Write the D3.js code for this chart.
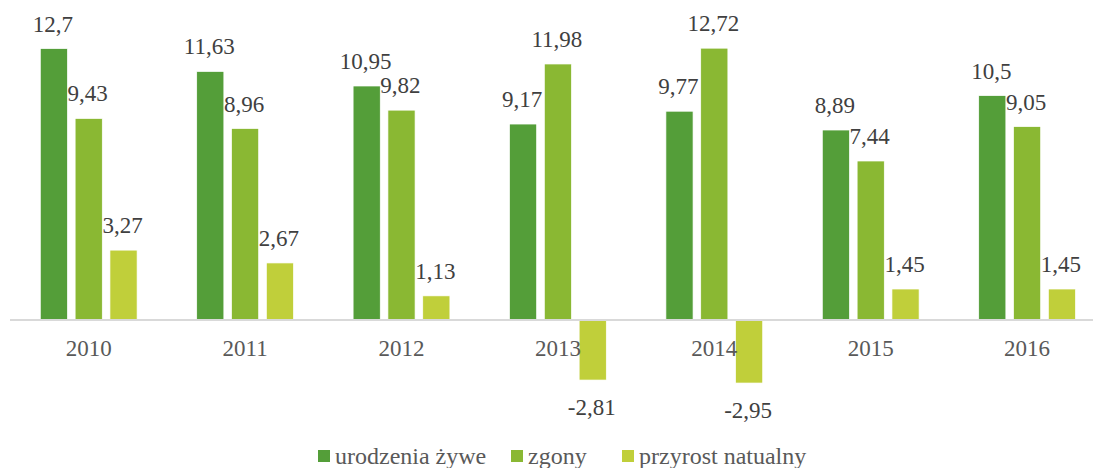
<!DOCTYPE html>
<html>
<head>
<meta charset="utf-8">
<script src="https://cdn.jsdelivr.net/npm/d3@7"></script>
<style>
  body { margin: 0; background: #fff; overflow: hidden; }
  text { font-family: "Liberation Serif", "Times New Roman", serif; fill: #404040; }
</style>
</head>
<body>
<svg></svg>
<script>
var width = 1093,
    height = 468;

var years = ["2010", "2011", "2012", "2013", "2014", "2015", "2016"];
var seriesNames = ["urodzenia żywe", "zgony", "przyrost natualny"];
var births = [12.7, 11.63, 10.95, 9.17, 9.77, 8.89, 10.5];
var deaths = [9.43, 8.96, 9.82, 11.98, 12.72, 7.44, 9.05];
var growth = [3.27, 2.67, 1.13, -2.81, -2.95, 1.45, 1.45];
var colors = ["#549E39", "#8AB833", "#C0CF3A"];

var series = [births, deaths, growth];

var svg = d3.select("svg")
    .attr("width", width)
    .attr("height", height);

// plot area runs a bit past the right edge, like the original
var x = d3.scaleBand()
    .domain(years)
    .range([10.5, 10.5 + 7 * 156.4]);

var y = d3.scaleLinear()
    .domain([-3, 12.7])
    .range([320 + 3 * 21.37, 320 - 12.7 * 21.37]);

var inner = d3.scaleBand()
    .domain([0, 1, 2])
    .range([29.8, 29.8 + 96.8])
    .paddingInner(0.22);

var fmt = function(v) { return String(v).replace(".", ","); };

var groups = svg.append("g")
  .selectAll("g")
  .data(years)
  .enter().append("g")
    .attr("transform", function(d) { return "translate(" + x(d) + ",0)"; });

var cells = groups.selectAll("g")
    .data(function(d, i) { return series.map(function(s, k) { return { k: k, v: s[i] }; }); })
    .enter().append("g");

cells.append("rect")
    .attr("x", function(d) { return inner(d.k); })
    .attr("width", inner.bandwidth())
    .attr("y", function(d) { return y(Math.max(0, d.v)); })
    .attr("height", function(d) { return Math.abs(y(d.v) - y(0)); })
    .attr("fill", function(d) { return colors[d.k]; })
    .attr("stroke", "#fff")
    .attr("stroke-width", 0.7);

// zero line
svg.append("line")
    .attr("x1", 10)
    .attr("x2", width)
    .attr("y1", y(0))
    .attr("y2", y(0))
    .style("stroke", "#d9d9d9")
    .style("stroke-width", 2);

var xAxis = svg.append("g")
    .attr("transform", "translate(0," + y(0) + ")")
    .call(d3.axisBottom(x).tickSize(0).tickPadding(20));
xAxis.select(".domain").remove();
xAxis.selectAll("text")
    .style("font-family", "Liberation Serif, serif")
    .style("font-size", "23px")
    .style("fill", "#595959");

cells.append("text")
    .attr("text-anchor", "middle")
    .attr("x", function(d) { return inner(d.k) + inner.bandwidth() / 2 - 1; })
    .attr("y", function(d) { return d.v >= 0 ? y(d.v) - 17 : y(d.v) + 35; })
    .style("font-size", "23px")
    .text(function(d) { return fmt(d.v); });

// legend
var legendX = [318, 511, 622];
var legend = svg.append("g")
  .selectAll("g")
  .data(seriesNames)
  .enter().append("g")
    .attr("transform", function(d, i) { return "translate(" + legendX[i] + ",450)"; });

legend.append("rect")
    .attr("width", 12)
    .attr("height", 12)
    .attr("fill", function(d, i) { return colors[i]; });

legend.append("text")
    .attr("x", 17)
    .attr("y", 14)
    .style("font-size", "24px")
    .style("fill", "#595959")
    .text(function(d) { return d; });
</script>
</body>
</html>
